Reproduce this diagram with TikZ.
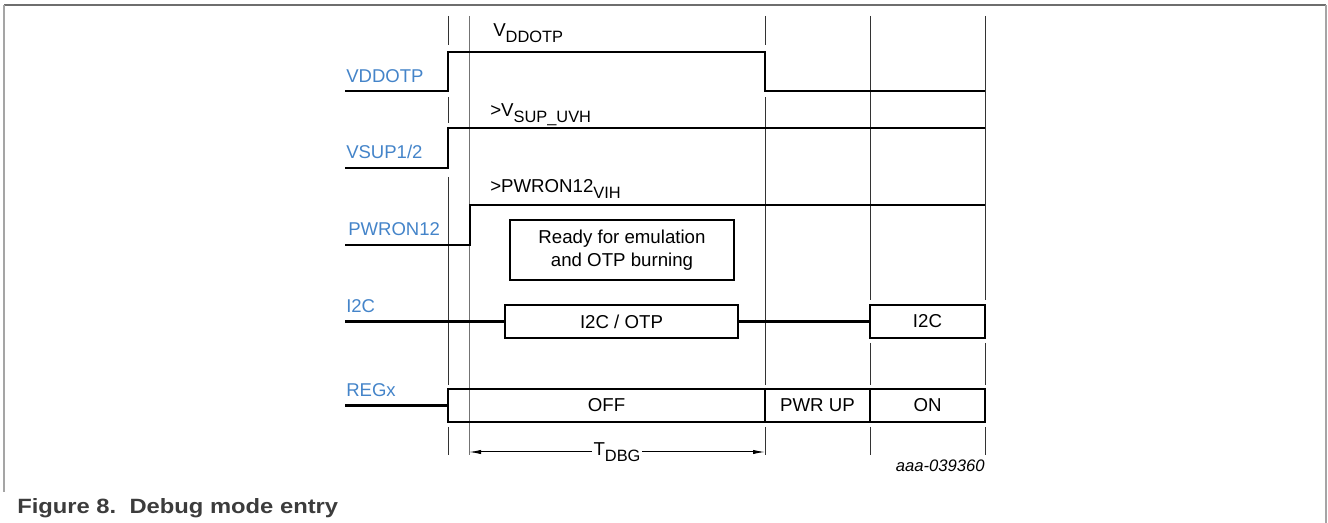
\documentclass[tikz,border=0pt]{standalone}
\usepackage{fontspec}
\setmainfont{Liberation Sans}
\usetikzlibrary{arrows.meta}
\definecolor{siglbl}{RGB}{68,132,201}
\definecolor{framedark}{RGB}{110,110,110}
\definecolor{framelight}{RGB}{165,165,165}
\definecolor{capgray}{RGB}{60,60,60}
\newcommand{\subtxt}[1]{\raisebox{-4pt}{\fontsize{12.3}{14}\selectfont #1}}
\tikzset{
	sig/.style={line width=1.9pt},
	guide/.style={line width=0.75pt, black!80},
	siglabel/.style={text=siglbl, anchor=base west, inner sep=0pt, font=\fontsize{13.9}{16}\selectfont},
	toplabel/.style={anchor=base west, inner sep=0pt, font=\fontsize{14}{16}\selectfont},
	stbox/.style={draw, line width=1.9pt, inner sep=0pt, minimum height=24.75pt, font=\fontsize{14}{17}\selectfont},
	tdbgtip/.tip={Latex[length=9pt,width=3.2pt]}
}
\begin{document}
\begin{tikzpicture}[x=0.75pt,y=-0.75pt]
			\useasboundingbox (0,0) rectangle (1328,523);
			\draw[framedark, line width=1.1pt] (4,5) -- (1326,5);
			\draw[framelight, line width=1.3pt] (4,492) -- (4,5) (1326,5) -- (1326,523);
			\draw[guide] (448,16) -- (448,45) (448,97) -- (448,123) (448,177) -- (448,385) (448,427) -- (448,455);
			\draw[guide, black!55] (469,16) -- (469,455);
			\draw[guide] (765,16) -- (765,45) (765,97) -- (765,385) (765,427) -- (765,455);
			\draw[guide] (870,16) -- (870,300) (870,343) -- (870,385) (870,427) -- (870,455);
			\draw[guide] (985,16) -- (985,300) (985,343) -- (985,385) (985,427) -- (985,455);
			\node[siglabel] (vddlbl) at (346,83) {VDDOTP};
			\node[siglabel] (vsuplbl) at (346,159) {VSUP1/2};
			\node[siglabel] (pwrlbl) at (348,236) {PWRON12};
			\node[siglabel] (i2clbl) at (346,313) {I2C};
			\node[siglabel] (reglbl) at (346,397) {REGx};
			\node[toplabel] (vddlvl) at (493,37) {V\subtxt{DDOTP}};
			\node[toplabel] (vsuplvl) at (490,117) {>V\subtxt{SUP\_UVH}};
			\node[toplabel] (pwrlvl) at (490,193) {>PWRON12\subtxt{VIH}};
			\draw[sig] (345,91) -- (448,91) -- (448,52) -- (765,52) -- (765,91) -- (985,91);
			\draw[sig] (345,168) -- (448,168) -- (448,128) -- (985,128);
			\draw[sig] (345,245) -- (470,245) -- (470,205) -- (985,205);
			\node[stbox, minimum width=168pt, minimum height=45pt, align=center] (ready) at (622,250) {Ready for emulation\\and OTP burning};
			\coordinate (i2cin) at (345,321.5);
			\node[stbox, minimum width=174.75pt] (otp) at (621.5,321.5) {I2C / OTP};
			\node[stbox, minimum width=86.25pt] (i2cbus) at (927.5,321.5) {I2C};
			\draw[sig] (i2cin) -- (otp.west);
			\draw[sig] (otp.east) -- (i2cbus.west);
			\coordinate (regin) at (345,405.5);
			\node[stbox, minimum width=237.75pt] (off) at (606.5,405.5) {OFF};
			\node[stbox, minimum width=78.75pt] (pwrup) at (817.5,405.5) {PWR UP};
			\node[stbox, minimum width=86.25pt] (on) at (927.5,405.5) {ON};
			\draw[sig] (regin) -- (off.west);
			\coordinate (tdbgl) at (469,452);
			\coordinate (tdbgr) at (765,452);
			\draw[tdbgtip-tdbgtip, line width=0.75pt] (tdbgl) to node[fill=white, inner sep=1.5pt, font=\fontsize{14}{16}\selectfont] (tdbg) {T\subtxt{DBG}} (tdbgr);
			\node[anchor=base east, inner sep=0pt, font=\itshape\fontsize{12.5}{15}\selectfont] (docid) at (985,472) {aaa-039360};
			\node[anchor=base west, inner sep=0pt, text=capgray, font=\bfseries\fontsize{15.5}{18}\selectfont] (caption) at (17,514) {\scalebox{1.15}[1]{Figure 8.\ \ Debug mode entry}};
		\end{tikzpicture}
\end{document}
